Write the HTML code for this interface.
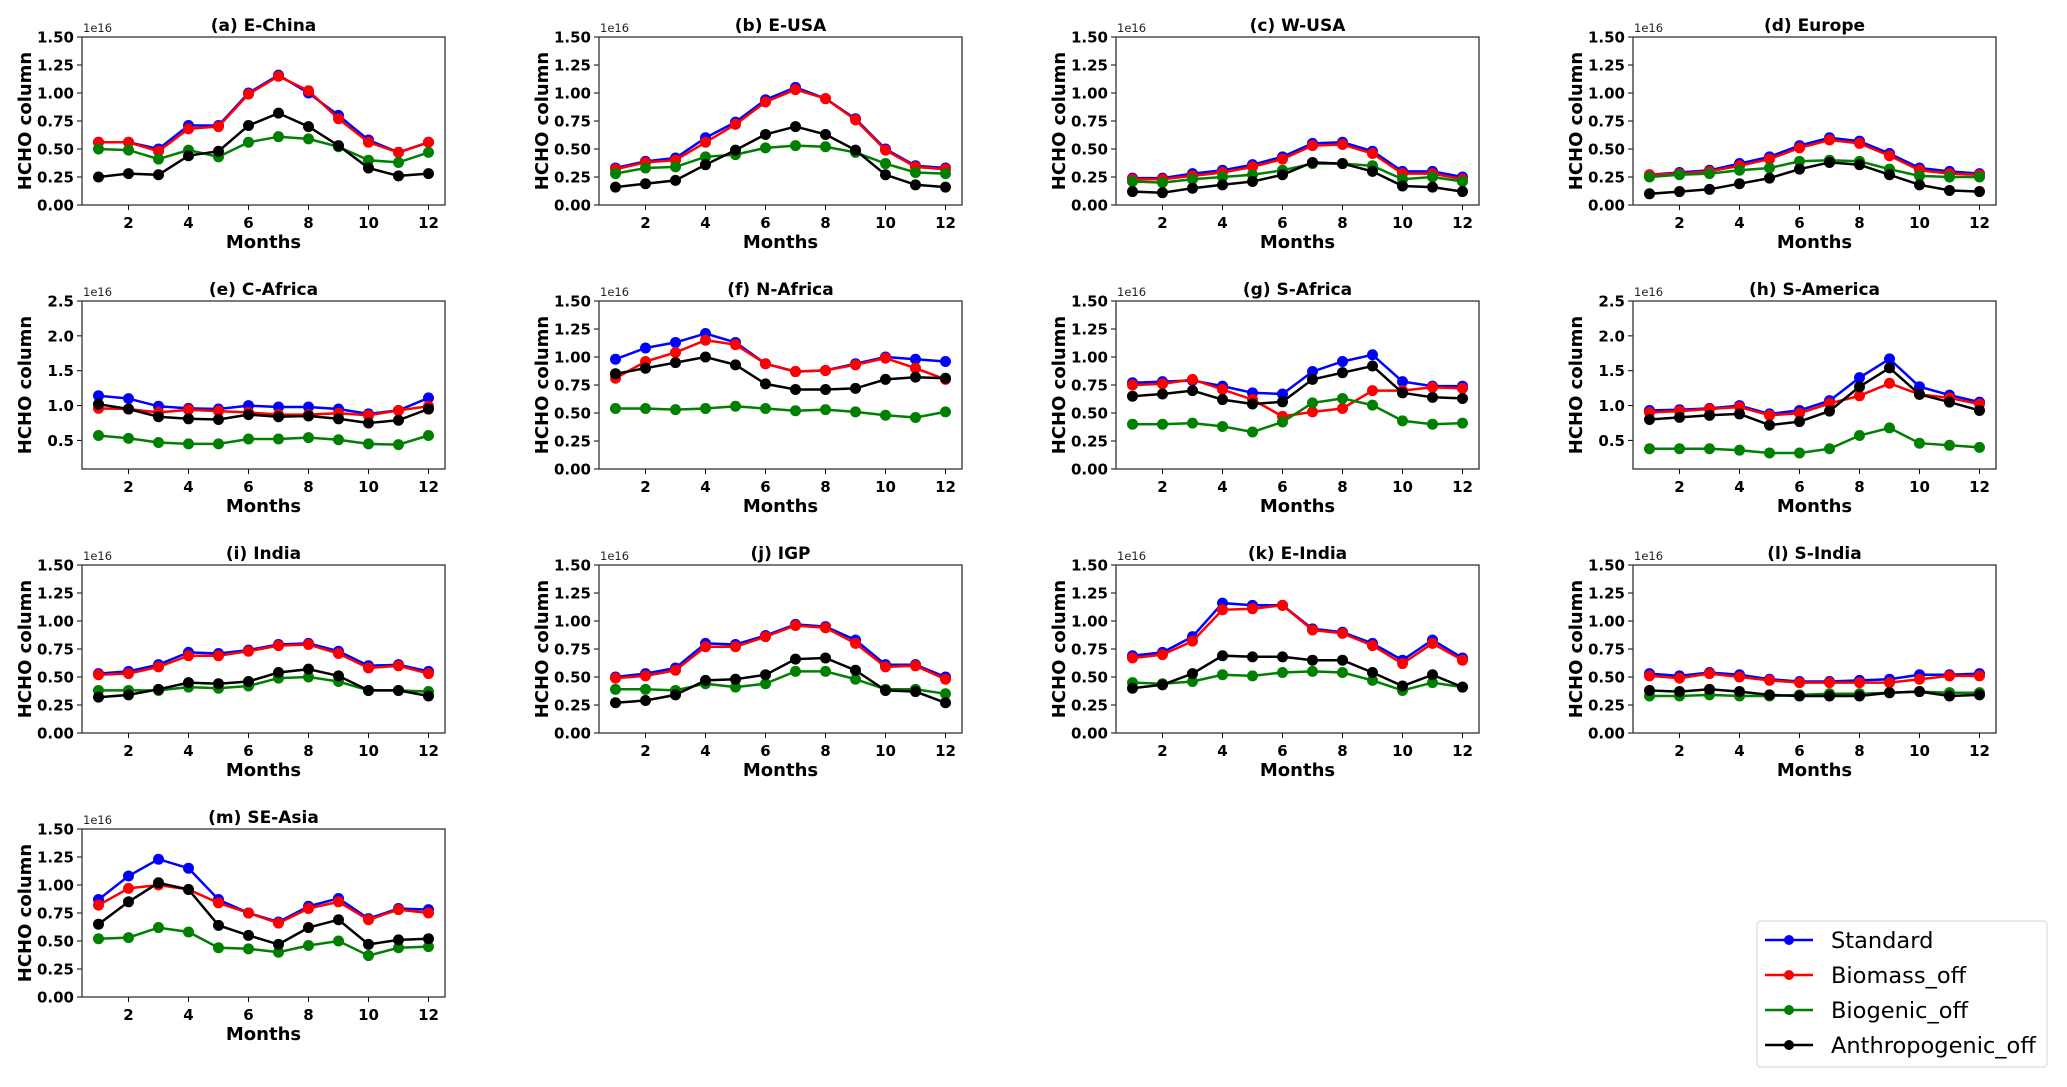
<!DOCTYPE html>
<html><head><meta charset="utf-8"><style>
html,body{margin:0;padding:0;background:#fff}
svg{display:block}
text{font-family:"DejaVu Sans","Liberation Sans",sans-serif}
</style></head><body>
<svg id="fig" width="2067" height="1087" viewBox="0 0 2067 1087" xmlns="http://www.w3.org/2000/svg"></svg>
<script>
const months=[1,2,3,4,5,6,7,8,9,10,11,12];
const seriesNames=["Standard","Biomass_off","Biogenic_off","Anthropogenic_off"];
const seriesColors=["#0000ff","#ff0000","#008000","#000000"];
const panelTitles=["(a) E-China","(b) E-USA","(c) W-USA","(d) Europe","(e) C-Africa","(f) N-Africa","(g) S-Africa","(h) S-America","(i) India","(j) IGP","(k) E-India","(l) S-India","(m) SE-Asia"];
const ticksA=[0,0.25,0.5,0.75,1.0,1.25,1.5];
const tickLabelsA=["0.00","0.25","0.50","0.75","1.00","1.25","1.50"];
const ticksB=[0.5,1.0,1.5,2.0,2.5];
const tickLabelsB=["0.5","1.0","1.5","2.0","2.5"];
const xTicks=[2,4,6,8,10,12];
const eChina=[[.56,.56,.50,.71,.71,1.00,1.16,1.00,.80,.58,.47,.56],[.56,.56,.48,.68,.70,.99,1.15,1.02,.77,.56,.47,.56],[.50,.49,.41,.49,.43,.56,.61,.59,.52,.40,.38,.47],[.25,.28,.27,.44,.48,.71,.82,.70,.53,.33,.26,.28]];
const eUSA=[[.33,.39,.42,.60,.74,.94,1.05,.95,.77,.50,.35,.33],[.32,.38,.40,.56,.72,.92,1.03,.95,.76,.49,.34,.32],[.28,.33,.34,.43,.45,.51,.53,.52,.47,.37,.29,.28],[.16,.19,.22,.36,.49,.63,.70,.63,.49,.27,.18,.16]];
const wUSA=[[.24,.24,.28,.31,.36,.43,.55,.56,.48,.30,.30,.25],[.23,.23,.26,.29,.34,.41,.53,.54,.46,.28,.28,.23],[.21,.20,.23,.25,.27,.31,.37,.37,.35,.23,.25,.21],[.12,.11,.15,.18,.21,.27,.38,.37,.30,.17,.16,.12]];
const europe=[[.27,.29,.31,.37,.43,.53,.60,.57,.46,.33,.30,.28],[.27,.28,.30,.35,.41,.51,.58,.55,.44,.31,.28,.27],[.25,.27,.28,.31,.33,.39,.40,.39,.32,.26,.25,.25],[.10,.12,.14,.19,.24,.32,.38,.36,.27,.18,.13,.12]];
const cAfrica=[[1.14,1.10,.99,.96,.95,1.00,.98,.98,.95,.88,.93,1.11],[.96,.95,.90,.94,.92,.90,.87,.87,.89,.86,.93,.99],[.57,.53,.47,.45,.45,.52,.52,.54,.51,.45,.44,.57],[1.02,.95,.84,.81,.80,.87,.84,.85,.81,.75,.79,.95]];
const nAfrica=[[.98,1.08,1.13,1.21,1.13,.94,.87,.88,.94,1.00,.98,.96],[.81,.96,1.04,1.15,1.11,.94,.87,.88,.93,.99,.90,.80],[.54,.54,.53,.54,.56,.54,.52,.53,.51,.48,.46,.51],[.85,.90,.95,1.00,.93,.76,.71,.71,.72,.80,.82,.81]];
const sAfrica=[[.77,.78,.79,.74,.68,.67,.87,.96,1.02,.78,.74,.74],[.75,.76,.80,.71,.62,.47,.51,.54,.70,.70,.73,.72],[.40,.40,.41,.38,.33,.42,.59,.63,.57,.43,.40,.41],[.65,.67,.70,.62,.58,.60,.80,.86,.92,.68,.64,.63]];
const sAmerica=[[.93,.94,.96,1.00,.88,.93,1.07,1.40,1.67,1.27,1.15,1.05],[.90,.92,.95,.98,.86,.89,1.03,1.14,1.32,1.16,1.11,1.02],[.38,.38,.38,.36,.32,.32,.38,.57,.68,.46,.43,.40],[.80,.83,.86,.88,.72,.77,.92,1.27,1.54,1.16,1.05,.93]];
const india=[[.53,.55,.61,.72,.71,.74,.79,.80,.73,.60,.61,.55],[.52,.53,.59,.69,.69,.73,.78,.79,.71,.58,.60,.53],[.38,.38,.38,.41,.40,.42,.49,.50,.46,.38,.38,.37],[.32,.34,.39,.45,.44,.46,.54,.57,.51,.38,.38,.33]];
const igp=[[.50,.53,.58,.80,.79,.87,.97,.95,.83,.61,.61,.50],[.49,.51,.56,.77,.77,.86,.96,.94,.80,.59,.60,.48],[.39,.39,.38,.44,.41,.44,.55,.55,.48,.39,.39,.35],[.27,.29,.34,.47,.48,.52,.66,.67,.56,.38,.37,.27]];
const eIndia=[[.69,.72,.86,1.16,1.14,1.14,.93,.90,.80,.65,.83,.67],[.67,.70,.82,1.10,1.11,1.14,.92,.89,.78,.62,.80,.65],[.45,.44,.46,.52,.51,.54,.55,.54,.47,.38,.45,.41],[.40,.43,.53,.69,.68,.68,.65,.65,.54,.42,.52,.41]];
const sIndia=[[.53,.51,.54,.52,.48,.46,.46,.47,.48,.52,.52,.53],[.51,.49,.53,.50,.47,.45,.45,.45,.45,.48,.51,.51],[.33,.33,.34,.33,.33,.34,.35,.35,.36,.37,.36,.36],[.38,.37,.39,.37,.34,.33,.33,.33,.36,.37,.33,.34]];
const seAsia=[[.87,1.08,1.23,1.15,.87,.75,.67,.81,.88,.70,.79,.78],[.82,.97,1.00,.96,.84,.75,.66,.79,.85,.69,.78,.75],[.52,.53,.62,.58,.44,.43,.40,.46,.50,.37,.44,.45],[.65,.85,1.02,.96,.64,.55,.47,.62,.69,.47,.51,.52]];
const panelData=[eChina,eUSA,wUSA,europe,cAfrica,nAfrica,sAfrica,sAmerica,india,igp,eIndia,sIndia,seAsia];
const wideRange=[false,false,false,false,true,false,false,true,false,false,false,false,false];

const NS="http://www.w3.org/2000/svg";
const svg=document.getElementById('fig');
function mk(tag,attrs,parent){const e=document.createElementNS(NS,tag);for(const k in attrs)e.setAttribute(k,attrs[k]);(parent||svg).appendChild(e);return e;}
const W=363,H=168;
panelData.forEach((data,p)=>{
  const col=p%4,row=Math.floor(p/4);
  const L=82+517*col,T=37+264*row;
  const g=mk('g',{});
  
  
  const wide=wideRange[p];
  const ymin=wide?0.09:0, ymax=wide?2.5:1.5;
  const xS=v=>L+(v-0.45)/12.1*W;
  const yS=v=>T+H-(v-ymin)/(ymax-ymin)*H;
  const t=mk('text',{x:L+W/2,y:T-6,'text-anchor':'middle','font-size':17,'font-weight':'bold',fill:'#000'},g);t.textContent=panelTitles[p];
  
  const ticks=wide?ticksB:ticksA, labs=wide?tickLabelsB:tickLabelsA;
  ticks.forEach((v,i)=>{
    const y=yS(v);
    mk('line',{x1:L-5,x2:L,y1:y,y2:y,stroke:'#000','stroke-width':1},g);
    const tl=mk('text',{x:L-8,y:y+5.5,'text-anchor':'end','font-size':15,'font-weight':'bold'},g);tl.textContent=labs[i];
    
  });
  xTicks.forEach(v=>{
    const x=xS(v);
    mk('line',{x1:x,x2:x,y1:T+H,y2:T+H+5,stroke:'#000','stroke-width':1},g);
    const tl=mk('text',{x:x,y:T+H+23,'text-anchor':'middle','font-size':15,'font-weight':'bold'},g);tl.textContent=v;
    
  });
  const e=mk('text',{x:L+1,y:T-5,'font-size':11.5,fill:'#222'},g);e.textContent='1e16';
  
  const xl=mk('text',{x:L+W/2,y:T+H+43,'text-anchor':'middle','font-size':18,'font-weight':'bold'},g);xl.textContent='Months';
  
  const yl=mk('text',{x:0,y:0,'text-anchor':'middle','font-size':18,'font-weight':'bold',transform:`translate(${L-51},${T+H/2}) rotate(-90)`},g);yl.textContent='HCHO column';
  
  data.forEach((vals,s)=>{
    const pts=vals.map((v,i)=>xS(months[i]).toFixed(1)+','+yS(v).toFixed(1)).join(' ');
    const pl=mk('polyline',{points:pts,fill:'none',stroke:seriesColors[s],'stroke-width':2.5},g);
    
    vals.forEach((v,i)=>{
      const c=mk('circle',{cx:xS(months[i]),cy:yS(v),r:5.5,fill:seriesColors[s]},g);
      
    });
  });
  const fr=mk('rect',{x:L,y:T,width:W,height:H,fill:'none',stroke:'#333','stroke-width':1.3},g);
  
});
const lg=mk('g',{});

mk('rect',{x:1757,y:921,width:290,height:146,rx:4,fill:'#fff',stroke:'#ddd','stroke-width':1.2},lg);
seriesNames.forEach((n,i)=>{
  const y=940+35*i;
  mk('line',{x1:1765,x2:1813,y1:y,y2:y,stroke:seriesColors[i],'stroke-width':2.5},lg);
  mk('circle',{cx:1789,cy:y,r:5,fill:seriesColors[i]},lg);
  const t=mk('text',{x:1831,y:y+8,'font-size':22.5},lg);t.textContent=n;
  
});
</script>
</body></html>
